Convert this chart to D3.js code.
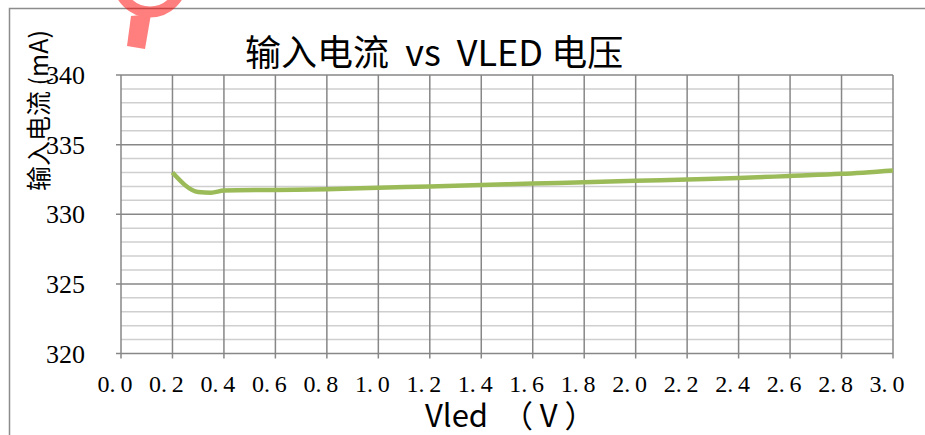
<!DOCTYPE html>
<html>
<head>
<meta charset="UTF-8">
<script src="https://d3js.org/d3.v7.min.js"></script>
<style>
  body { margin: 0; background: #fff; }
  text { white-space: pre; }
</style>
</head>
<body>
<script>
var width = 925, height = 435;

// data
var vled    = [0.2,   0.3,   0.35,   0.4,   0.6,    0.8,   1.0,   1.2,   1.4,   1.6,   1.8,   2.0,   2.2,   2.4,   2.6,    2.8,   3.0];
var current = [333.0, 331.6, 331.55, 331.7, 331.75, 331.8, 331.9, 332.0, 332.1, 332.2, 332.3, 332.4, 332.5, 332.6, 332.75, 332.9, 333.15];
var xTicks  = [0.0, 0.2, 0.4, 0.6, 0.8, 1.0, 1.2, 1.4, 1.6, 1.8, 2.0, 2.2, 2.4, 2.6, 2.8, 3.0];
var yTicks  = [320, 325, 330, 335, 340];
var yMinor  = d3.range(320, 341, 1);

var margin = {left: 121, right: 32, top: 75, bottom: 81.5};
var serif = "'Liberation Serif', 'DejaVu Serif', serif";
var sans = "'Noto Sans CJK SC', 'Noto Sans', sans-serif";

var svg = d3.select('body').append('svg')
  .attr('width', width).attr('height', height);

var x = d3.scaleLinear().domain([0, 3]).range([margin.left, width - margin.right]);
var y = d3.scaleLinear().domain([320, 340]).range([height - margin.bottom, margin.top]);

// outer chart border (only top and left are inside the picture)
svg.append('path')
  .attr('d', 'M9.5,' + height + 'V8.5H' + width)
  .attr('fill', 'none').attr('stroke', '#8c8c8c').attr('stroke-width', 1.5);

// minor horizontal grid
svg.append('g').selectAll('line')
  .data(yMinor.filter(function(d) { return d % 5 != 0; }))
  .join('line')
  .attr('x1', x(0)).attr('x2', x(3))
  .attr('y1', function(d) { return y(d); })
  .attr('y2', function(d) { return y(d); })
  .attr('stroke', '#cfcfcf').attr('stroke-width', 1.5);

// major horizontal grid (with small tick stubs on the left)
svg.append('g').selectAll('line')
  .data(yTicks)
  .join('line')
  .attr('x1', x(0) - 5).attr('x2', x(3))
  .attr('y1', function(d) { return y(d); })
  .attr('y2', function(d) { return y(d); })
  .attr('stroke', '#878787').attr('stroke-width', 1.5);

// vertical grid
svg.append('g').selectAll('line')
  .data(xTicks)
  .join('line')
  .attr('x1', function(d) { return x(d); })
  .attr('x2', function(d) { return x(d); })
  .attr('y1', y(340)).attr('y2', y(320) + 5)
  .attr('stroke', '#878787').attr('stroke-width', 1.5);

// y tick labels
svg.append('g').selectAll('text')
  .data(yTicks)
  .join('text')
  .attr('x', 85)
  .attr('y', function(d) { return y(d) + 9; })
  .attr('text-anchor', 'end')
  .style('font-family', serif)
  .style('font-size', '26px')
  .attr('fill', '#000')
  .text(function(d) { return d; });

// x tick labels
svg.append('g').selectAll('text')
  .data(xTicks)
  .join('text')
  .attr('x', function(d) { return x(d) - 6; })
  .attr('y', 392)
  .attr('text-anchor', 'middle')
  .style('font-family', serif)
  .style('font-size', '24px')
  .attr('fill', '#000')
  .text(function(d) { return d3.format('.1f')(d).replace('.', '.\u2009'); });

// the series
var line = d3.line()
  .x(function(d, i) { return x(vled[i]); })
  .y(function(d) { return y(d); })
  .curve(d3.curveMonotoneX);

svg.append('path')
  .datum(current)
  .attr('d', line)
  .attr('fill', 'none')
  .attr('stroke', '#9bbb59')
  .attr('stroke-width', 4.5)
  .attr('stroke-linejoin', 'round');

// title
svg.append('text')
  .attr('x', 245).attr('y', 66)
  .style('font-family', sans)
  .style('font-size', '36px')
  .attr('fill', '#000')
  .text('输入电流  vs  VLED 电压');

// y axis title
svg.append('text')
  .attr('transform', 'translate(48,191) rotate(-90)')
  .style('font-family', sans)
  .style('font-size', '25px')
  .attr('fill', '#000')
  .text('输入电流 (mA)');

// x axis title
svg.append('text')
  .attr('x', 425).attr('y', 427)
  .style('font-family', sans)
  .style('font-size', '31px')
  .attr('fill', '#000')
  .text('Vled  （ V ）');

// red watermark in the top corner
var mark = svg.append('g').attr('opacity', 0.5);
mark.append('circle')
  .attr('cx', 150).attr('cy', -20).attr('r', 32)
  .attr('fill', 'none').attr('stroke', '#ff0000').attr('stroke-width', 11);
mark.append('path')
  .attr('d', 'M131,16L151,14L145,49L127,46Z')
  .attr('fill', '#ff0000');
</script>
</body>
</html>
